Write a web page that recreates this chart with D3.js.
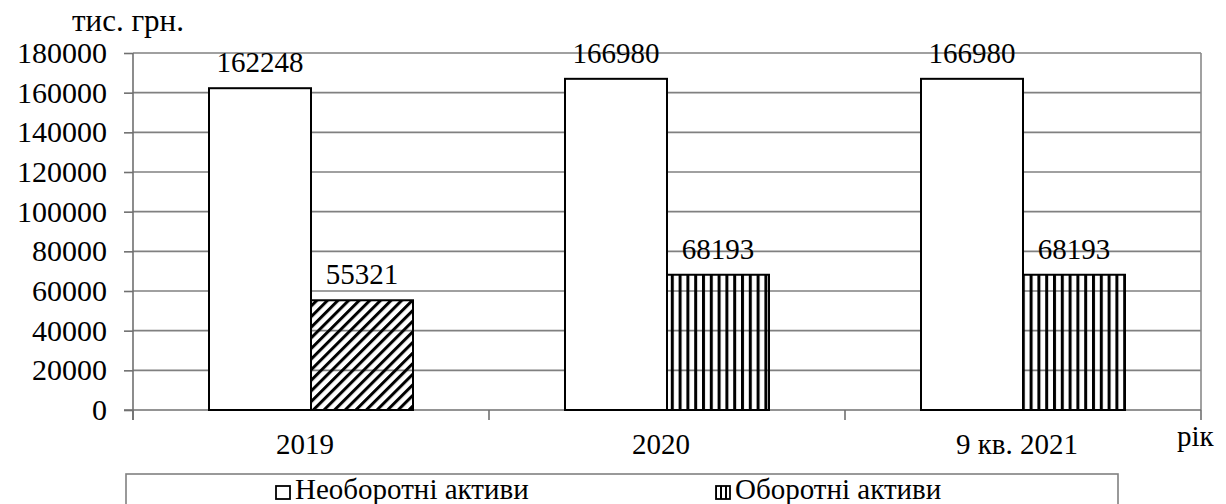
<!DOCTYPE html>
<html>
<head>
<meta charset="UTF-8">
<title></title>
</head>
<body style="margin:0; background:#fff">
<script src="https://cdn.jsdelivr.net/npm/d3@7"></script>
<script>

    var categories = ['2019', '2020', '9 кв. 2021'];
    var fixedAssets = [162248, 166980, 166980];     // Необоротні активи
    var currentAssets = [55321, 68193, 68193];      // Оборотні активи
    var currentHatch = ['diag', 'vert', 'vert'];
    var yTicks = [0, 20000, 40000, 60000, 80000, 100000, 120000, 140000, 160000, 180000];
    var seriesNames = ['Необоротні активи', 'Оборотні активи'];

    var w = 1226,
        h = 504;
    var plotL = 133, plotR = 1201, plotT = 53, plotB = 410;
    var fontFam = "'Liberation Serif'";

    var svg = d3.select('body')
            .append('svg')
            .attr('width', w)
            .attr('height', h);

    var defs = svg.append('defs');
    // diagonal stripes
    defs.append('pattern')
            .attr('id', 'diag')
            .attr('patternUnits', 'userSpaceOnUse')
            .attr('width', 7.5).attr('height', 10)
            .attr('patternTransform', 'rotate(45)')
            .append('rect')
            .attr('x', 0).attr('y', 0).attr('width', 3).attr('height', 10)
            .attr('fill', '#000');
    // vertical stripes
    defs.append('pattern')
            .attr('id', 'vert')
            .attr('patternUnits', 'userSpaceOnUse')
            .attr('width', 7.8).attr('height', 10)
            .append('rect')
            .attr('x', 0).attr('y', 0).attr('width', 3).attr('height', 10)
            .attr('fill', '#000');
    defs.append('pattern')
            .attr('id', 'leg')
            .attr('patternUnits', 'userSpaceOnUse')
            .attr('width', 5).attr('height', 10)
            .append('rect')
            .attr('x', 0).attr('y', 0).attr('width', 2).attr('height', 10)
            .attr('fill', '#000');

    var x = d3.scaleBand()
            .domain(categories)
            .range([plotL, plotR]);

    var y = d3.scaleLinear()
            .domain([0, 180000])
            .range([plotB, plotT]);

    var barW = 102;

    // gridlines
    svg.selectAll('line.grid')
            .data(yTicks.slice(1))
            .enter()
            .append('line')
            .attr('class', 'grid')
            .attr('x1', plotL).attr('x2', plotR)
            .attr('y1', function(d) { return y(d); })
            .attr('y2', function(d) { return y(d); })
            .attr('stroke', '#808080')
            .attr('stroke-width', 1.6);

    // right border
    svg.append('line')
            .attr('x1', plotR).attr('x2', plotR)
            .attr('y1', plotT).attr('y2', plotB)
            .attr('stroke', '#8a8a8a')
            .attr('stroke-width', 1.6);

    // y axis
    var yAxis = d3.axisLeft(y)
            .tickValues(yTicks)
            .tickSize(9)
            .tickPadding(17)
            .tickFormat(d3.format('d'));
    var gy = svg.append('g')
            .attr('transform', 'translate(' + plotL + ',0)')
            .call(yAxis)
            .attr('font-family', null);
    gy.select('.domain').attr('stroke', '#707070').attr('stroke-width', 1.6)
            .attr('d', 'M0,' + plotT + 'V' + (plotB + 10));
    gy.selectAll('.tick line').attr('stroke', '#707070').attr('stroke-width', 1.6);
    gy.selectAll('.tick text')
            .style('font-family', fontFam)
            .style('font-size', '30px')
            .attr('fill', '#000');

    // x axis
    var xAxis = d3.axisBottom(x)
            .tickSize(0)
            .tickPadding(23)
            .tickFormat(function(d) { return d; });
    var gx = svg.append('g')
            .attr('transform', 'translate(0,' + plotB + ')')
            .call(xAxis)
            .attr('font-family', null);
    gx.select('.domain').attr('stroke', '#707070').attr('stroke-width', 1.6)
            .attr('d', 'M' + (plotL - 9) + ',0H' + plotR);
    gx.selectAll('.tick text')
            .attr('dx', -6)
            .style('font-family', fontFam)
            .style('font-size', '29px')
            .attr('fill', '#000');
    // category boundary ticks
    gx.selectAll('line.sep')
            .data(categories.map(function(c) { return x(c); }).concat([plotR]))
            .enter()
            .append('line')
            .attr('class', 'sep')
            .attr('x1', function(d) { return d; }).attr('x2', function(d) { return d; })
            .attr('y1', 0).attr('y2', 10)
            .attr('stroke', '#707070')
            .attr('stroke-width', 1.6);

    // bars
    function cx(c) { return x(c) + x.bandwidth() / 2; }

    svg.selectAll('rect.fixed')
            .data(fixedAssets)
            .enter()
            .append('rect')
            .attr('class', 'fixed')
            .attr('x', function(d, i) { return cx(categories[i]) - barW; })
            .attr('y', function(d) { return y(d); })
            .attr('width', barW)
            .attr('height', function(d) { return plotB - y(d); })
            .attr('fill', '#fff')
            .attr('stroke', '#000')
            .attr('stroke-width', 2);

    svg.selectAll('rect.current')
            .data(currentAssets)
            .enter()
            .append('rect')
            .attr('class', 'current')
            .attr('x', function(d, i) { return cx(categories[i]); })
            .attr('y', function(d) { return y(d); })
            .attr('width', barW)
            .attr('height', function(d) { return plotB - y(d); })
            .attr('fill', function(d, i) { return 'url(#' + currentHatch[i] + ')'; })
            .attr('stroke', '#000')
            .attr('stroke-width', 2);

    // value labels
    svg.selectAll('text.vfixed')
            .data(fixedAssets)
            .enter()
            .append('text')
            .attr('class', 'vfixed')
            .attr('x', function(d, i) { return cx(categories[i]) - barW / 2; })
            .attr('y', function(d) { return y(d) - 16; })
            .attr('text-anchor', 'middle')
            .style('font-family', fontFam)
            .style('font-size', '29px')
            .text(function(d) { return d; });

    svg.selectAll('text.vcurrent')
            .data(currentAssets)
            .enter()
            .append('text')
            .attr('class', 'vcurrent')
            .attr('x', function(d, i) { return cx(categories[i]) + barW / 2; })
            .attr('y', function(d) { return y(d) - 16; })
            .attr('text-anchor', 'middle')
            .style('font-family', fontFam)
            .style('font-size', '29px')
            .text(function(d) { return d; });

    // axis titles
    svg.append('text')
            .attr('x', 72).attr('y', 31)
            .style('font-family', fontFam)
            .style('font-size', '31px')
            .text('тис. грн.');
    svg.append('text')
            .attr('x', 1177).attr('y', 446)
            .style('font-family', fontFam)
            .style('font-size', '29px')
            .text('рік');

    // legend
    var lg = svg.append('g');
    lg.append('rect')
            .attr('x', 126).attr('y', 474)
            .attr('width', 992).attr('height', 40)
            .attr('fill', '#fff')
            .attr('stroke', '#808080')
            .attr('stroke-width', 1.6);
    var items = [{ name: seriesNames[0], fill: '#fff', x: 276 },
                 { name: seriesNames[1], fill: 'url(#leg)', x: 716 }];
    lg.selectAll('rect.sw')
            .data(items)
            .enter()
            .append('rect')
            .attr('class', 'sw')
            .attr('x', function(d) { return d.x; })
            .attr('y', 486)
            .attr('width', 14).attr('height', 13)
            .attr('fill', function(d) { return d.fill; })
            .attr('stroke', '#000')
            .attr('stroke-width', 1.8);
    lg.selectAll('text.lt')
            .data(items)
            .enter()
            .append('text')
            .attr('class', 'lt')
            .attr('x', function(d) { return d.x + 19; })
            .attr('y', 499)
            .style('font-family', fontFam)
            .style('font-size', '29px')
            .text(function(d) { return d.name; });

</script>
</body>
</html>
